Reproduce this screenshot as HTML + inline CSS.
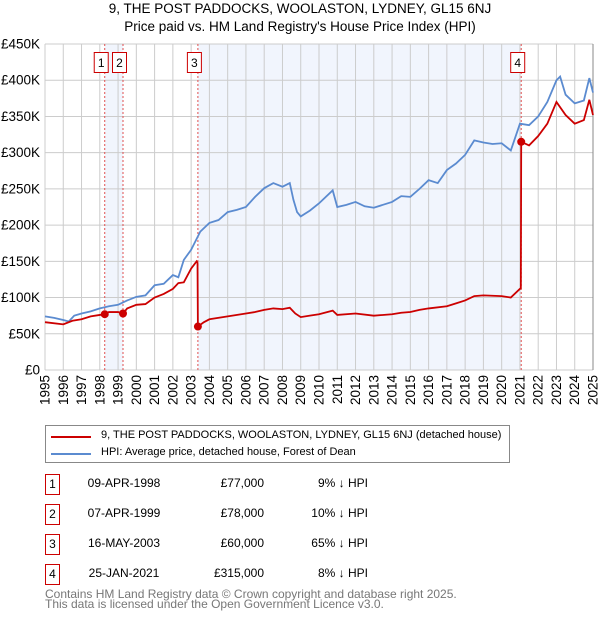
<!DOCTYPE html>
<html><head><meta charset="utf-8"><style>
body{margin:0;background:#fff;font-family:"Liberation Sans","DejaVu Sans",sans-serif;}
#wrap{position:relative;width:600px;height:620px;overflow:hidden;}
.t{position:absolute;font-size:12px;color:#000;white-space:nowrap;}
.box{position:absolute;width:13px;height:19px;border:1px solid #c00;font-size:12px;text-align:center;line-height:19px;}
</style></head><body><div id="wrap">
<div class="t" style="left:0;width:600px;text-align:center;top:1px;font-size:13.5px">9, THE POST PADDOCKS, WOOLASTON, LYDNEY, GL15 6NJ</div>
<div class="t" style="left:0;width:600px;text-align:center;top:19px;font-size:13.5px">Price paid vs. HM Land Registry's House Price Index (HPI)</div>
<svg id="c" width="600" height="420" style="position:absolute;left:0;top:0"></svg>
<div style="position:absolute;left:45px;top:425px;width:463px;height:36px;border:1px solid #888;">
<div style="position:absolute;left:5px;top:10px;width:40px;height:2px;background:#c00"></div>
<div class="t" style="left:55px;top:3px;font-size:11px">9, THE POST PADDOCKS, WOOLASTON, LYDNEY, GL15 6NJ (detached house)</div>
<div style="position:absolute;left:5px;top:27px;width:40px;height:2px;background:#5b8bd0"></div>
<div class="t" style="left:55px;top:20px;font-size:11px">HPI: Average price, detached house, Forest of Dean</div>
</div>
<div id="tbl"></div>
<div class="t" style="left:45px;top:589px;color:#777;font-size:12px;line-height:10px">Contains HM Land Registry data © Crown copyright and database right 2025.<br>This data is licensed under the Open Government Licence v3.0.</div>
</div>
<script>
const hpiYears=[1995,1995.5,1996,1996.3,1996.6,1997,1997.5,1998,1998.5,1999,1999.5,2000,2000.5,2001,2001.5,2002,2002.3,2002.6,2003,2003.5,2004,2004.5,2005,2005.5,2006,2006.5,2007,2007.5,2008,2008.4,2008.6,2008.8,2009,2009.5,2010,2010.75,2011,2011.5,2012,2012.5,2013,2013.5,2014,2014.5,2015,2015.5,2016,2016.5,2017,2017.5,2018,2018.5,2019,2019.5,2020,2020.5,2021,2021.5,2022,2022.5,2023,2023.2,2023.5,2024,2024.5,2024.8,2025];
const hpiValues=[74,72,69,67,75,78,81,85,88,90,96,101,103,117,119,131,128,152,166,191,203,207,218,221,225,239,251,258,253,258,235,218,212,220,230,248,225,228,232,226,224,228,232,240,239,250,262,258,276,285,297,317,314,312,313,303,340,338,350,370,400,405,380,368,372,403,383];
const redYears=[1995,1996,1996.5,1997,1997.5,1998,1998.27,1998.5,1999,1999.27,1999.5,2000,2000.5,2001,2001.5,2002,2002.3,2002.6,2003,2003.3,2003.35,2003.37,2003.7,2004,2005,2006,2006.5,2007,2007.5,2008,2008.4,2008.7,2009,2009.5,2010,2010.75,2011,2012,2013,2014,2014.5,2015,2015.5,2016,2017,2017.5,2018,2018.5,2019,2020,2020.5,2021,2021.05,2021.07,2021.5,2022,2022.5,2023,2023.5,2024,2024.5,2024.8,2025];
const redValues=[66,63,68,70,74,76,77,80,80,78,85,90,91,100,105,112,120,121,140,150,148,60,66,70,74,78,80,83,85,84,86,78,73,75,77,82,76,78,75,77,79,80,83,85,88,92,96,102,103,102,100,112,113,315,310,323,340,370,352,340,345,373,352];
const saleYears=[1998.27,1999.27,2003.37,2021.07];
const saleValues=[77,78,60,315];
const saleLabels=["1","2","3","4"];
const saleDates=["09-APR-1998","07-APR-1999","16-MAY-2003","25-JAN-2021"];
const salePrices=["£77,000","£78,000","£60,000","£315,000"];
const saleHpi=["9% ↓ HPI","10% ↓ HPI","65% ↓ HPI","8% ↓ HPI"];
const yTicks=[0,50,100,150,200,250,300,350,400,450];
const yTickLabels=["£0","£50K","£100K","£150K","£200K","£250K","£300K","£350K","£400K","£450K"];
const xTicks=[];for(let y=1995;y<=2025;y++)xTicks.push(y);

const X0=45,X1=593,Y0=370,Y1=44;
const xs=v=>X0+(v-1995)*(X1-X0)/30;
const ys=v=>Y0-v*(Y0-Y1)/450;
const svg=document.getElementById('c');const NS='http://www.w3.org/2000/svg';
function mk(t,a){const e=document.createElementNS(NS,t);for(const k in a)e.setAttribute(k,a[k]);svg.appendChild(e);return e;}
for(let i=0;i<saleYears.length;i+=2){
 const r=mk('rect',{x:xs(saleYears[i]),y:Y1,width:xs(saleYears[i+1])-xs(saleYears[i]),height:Y0-Y1,fill:'#eef3fc',opacity:0.8});
 
 
}
yTicks.forEach((v,i)=>{
 const l=mk('line',{x1:X0,x2:X1,y1:ys(v),y2:ys(v),stroke:'#ccc','stroke-width':1});
 
 
 const t=mk('text',{x:40,y:ys(v)+4.5,'text-anchor':'end','font-size':13.5,fill:'#000'});
 
 
 t.textContent=yTickLabels[i];
});
xTicks.forEach(v=>{
 const l=mk('line',{x1:xs(v),x2:xs(v),y1:Y1,y2:Y0,stroke:'#ccc','stroke-width':1});
 
 
 const t=mk('text',{x:0,y:0,'text-anchor':'end','font-size':13.5,fill:'#000',transform:`translate(${xs(v)+4.5},375) rotate(-90)`});
 
 
 t.textContent=v;
});
const ax=mk('line',{x1:X1,x2:X1,y1:Y1,y2:Y0,stroke:'#888','stroke-width':1});


saleYears.forEach((v,i)=>{
 const l=mk('line',{x1:xs(v),x2:xs(v),y1:Y1,y2:Y0,stroke:'#e05050','stroke-width':1,'stroke-dasharray':'2,2'});
 
 
 const r=mk('rect',{x:xs(v)-10.5,y:52.5,width:14,height:20,fill:'#fff',stroke:'#c00'});
 
 
 const t=mk('text',{x:xs(v)-3.5,y:67,'text-anchor':'middle','font-size':12});
 
 
 t.textContent=saleLabels[i];
});
const hp=mk('polyline',{points:hpiYears.map((y,i)=>xs(y)+','+ys(hpiValues[i])).join(' '),fill:'none',stroke:'#5b8bd0','stroke-width':1.8});


const rp=mk('polyline',{points:redYears.map((y,i)=>xs(y)+','+ys(redValues[i])).join(' '),fill:'none',stroke:'#cc0000','stroke-width':1.8});


saleYears.forEach((v,i)=>{
 const c=mk('circle',{cx:xs(v),cy:ys(saleValues[i]),r:4,fill:'#cc0000'});
 
 
});
const tbl=document.getElementById('tbl');
saleLabels.forEach((s,i)=>{
 const top=474+i*30;
 const row=document.createElement('div');
 
 
 row.innerHTML=`<div class="box" style="left:45px;top:${top}px">${s}</div>
 <div class="t" style="left:60px;width:128px;text-align:center;top:${top+2}px">${saleDates[i]}</div>
 <div class="t" style="left:180px;width:84px;text-align:right;top:${top+2}px">${salePrices[i]}</div>
 <div class="t" style="left:280px;width:88px;text-align:right;top:${top+2}px">${saleHpi[i]}</div>`;
 tbl.appendChild(row);
});
</script></body></html>
